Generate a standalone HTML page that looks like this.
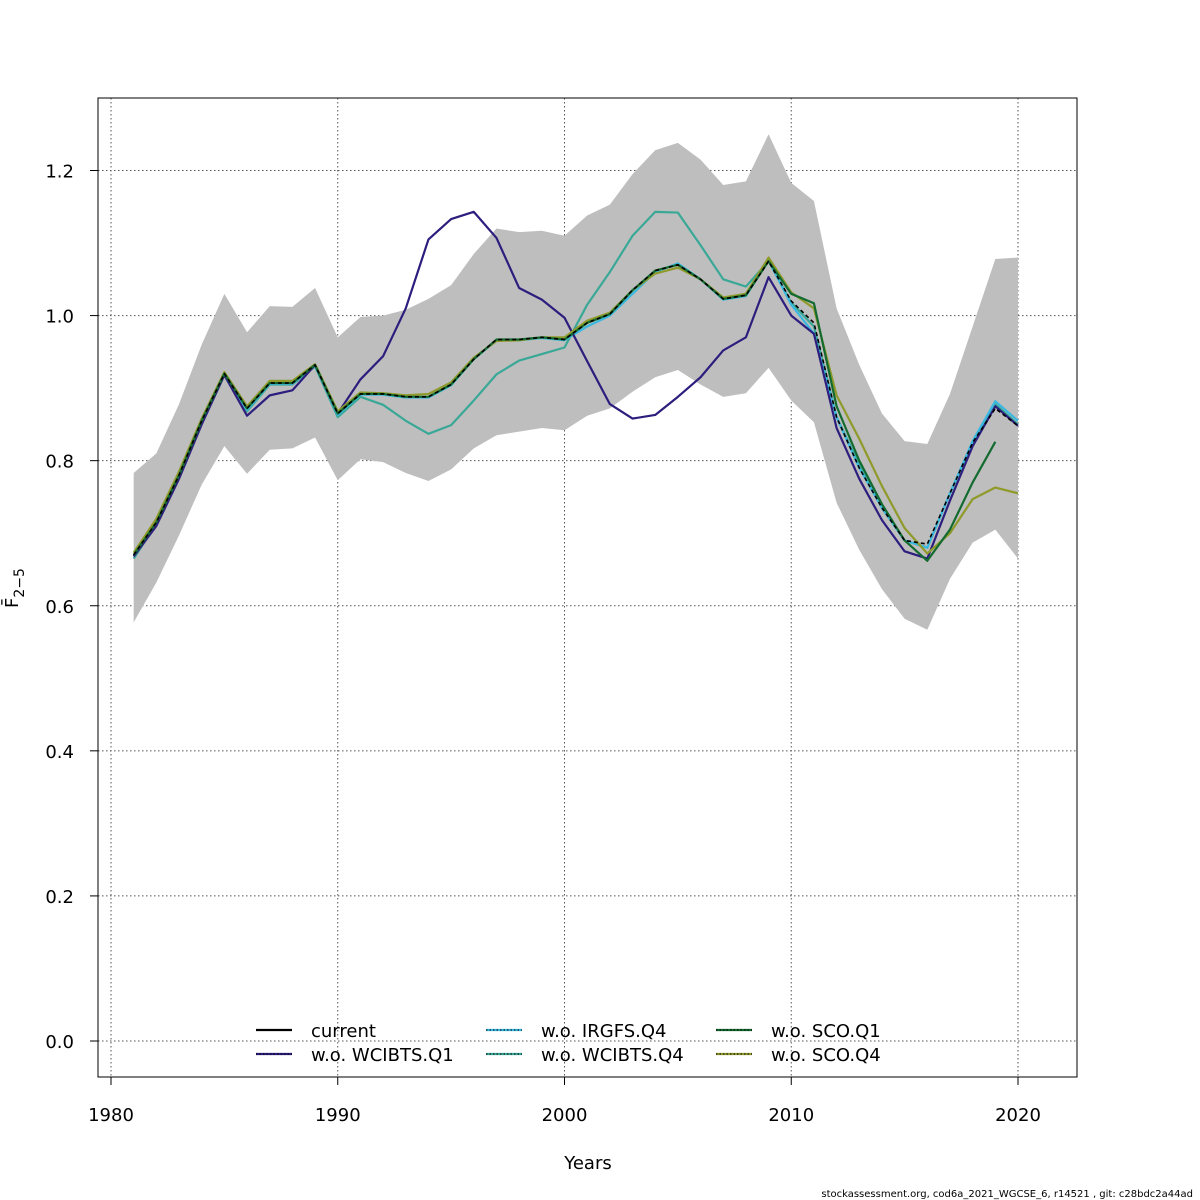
<!DOCTYPE html>
<html><head><meta charset="utf-8"><style>
body{margin:0;background:#fff}
svg{display:block;font-family:"DejaVu Sans","Liberation Sans",sans-serif}
</style></head><body>
<svg id="chart" width="1200" height="1200"></svg>
<script>
const years=[];for(let y=1981;y<=2020;y++)years.push(y);
const upper=[0.783,0.81,0.878,0.96,1.03,0.977,1.013,1.012,1.038,0.97,0.998,1.0,1.008,1.023,1.042,1.085,1.12,1.115,1.117,1.11,1.138,1.153,1.195,1.228,1.238,1.215,1.18,1.185,1.25,1.183,1.158,1.01,0.932,0.865,0.827,0.823,0.892,0.985,1.078,1.08];
const lower=[0.577,0.632,0.697,0.767,0.82,0.782,0.815,0.817,0.832,0.773,0.802,0.798,0.783,0.772,0.788,0.817,0.835,0.84,0.845,0.842,0.862,0.872,0.895,0.915,0.925,0.905,0.888,0.893,0.928,0.883,0.853,0.742,0.677,0.623,0.582,0.567,0.637,0.687,0.705,0.665];
const current=[0.67,0.715,0.78,0.855,0.92,0.872,0.907,0.907,0.932,0.865,0.892,0.892,0.888,0.888,0.905,0.94,0.967,0.967,0.97,0.967,0.99,1.002,1.035,1.062,1.07,1.05,1.023,1.028,1.075,1.02,0.99,0.86,0.79,0.735,0.69,0.685,0.755,0.825,0.872,0.848];
const woWCIBTSQ1=[0.668,0.71,0.775,0.85,0.918,0.862,0.89,0.897,0.932,0.865,0.912,0.944,1.01,1.105,1.133,1.143,1.107,1.038,1.022,0.997,0.937,0.878,0.858,0.863,0.888,0.915,0.952,0.97,1.053,1.0,0.975,0.845,0.775,0.718,0.675,0.665,0.745,0.82,0.875,0.848];
const woIRGFSQ4=[0.668,0.713,0.778,0.853,0.92,0.87,0.906,0.906,0.931,0.863,0.891,0.891,0.887,0.887,0.904,0.94,0.966,0.966,0.969,0.966,0.985,1.0,1.03,1.06,1.072,1.05,1.022,1.027,1.076,1.015,0.975,0.86,0.79,0.735,0.69,0.68,0.755,0.827,0.882,0.855];
const woWCIBTSQ4=[0.665,0.713,0.78,0.855,0.92,0.868,0.905,0.905,0.93,0.86,0.888,0.877,0.855,0.837,0.849,0.883,0.919,0.938,0.947,0.956,1.015,1.06,1.11,1.143,1.142,1.097,1.05,1.04,1.075,1.018,0.985,0.86,0.795,0.735,0.69,0.68,0.755,0.825,0.878,0.85];
const woSCOQ1=[0.67,0.715,0.78,0.855,0.92,0.872,0.907,0.907,0.932,0.865,0.892,0.892,0.888,0.888,0.905,0.94,0.967,0.967,0.97,0.967,0.99,1.002,1.035,1.062,1.07,1.05,1.023,1.028,1.075,1.03,1.017,0.875,0.8,0.74,0.69,0.662,0.705,0.77,0.826,null];
const woSCOQ4=[0.673,0.72,0.785,0.858,0.922,0.875,0.91,0.91,0.933,0.868,0.894,0.893,0.89,0.892,0.908,0.942,0.965,0.966,0.97,0.97,0.993,1.004,1.035,1.058,1.066,1.05,1.025,1.03,1.08,1.032,1.01,0.89,0.83,0.765,0.707,0.672,0.7,0.747,0.763,0.755];
const xTicks=[1980,1990,2000,2010,2020];
const yTicks=[0,0.2,0.4,0.6,0.8,1.0,1.2];
const yTickLabels=["0.0","0.2","0.4","0.6","0.8","1.0","1.2"];

const NS="http://www.w3.org/2000/svg";
const svg=document.getElementById('chart');
const X=v=>111+(v-1980)*(1018-111)/40;
const Y=v=>1041-v*(1041-170.5)/1.2;
function mk(t,a,p){const e=document.createElementNS(NS,t);for(const k in a)e.setAttribute(k,a[k]);(p||svg).appendChild(e);return e;}

xTicks.forEach(t=>{const l=mk('line',{x1:X(t),x2:X(t),y1:98,y2:1077,stroke:'#555','stroke-dasharray':'1.5,2.5','stroke-width':1});

});
yTicks.forEach(t=>{const l=mk('line',{x1:98,x2:1077,y1:Y(t),y2:Y(t),stroke:'#555','stroke-dasharray':'1.5,2.5','stroke-width':1});

});

let d='';years.forEach((y,i)=>{d+=(i?'L':'M')+X(y)+','+Y(upper[i]);});
for(let i=years.length-1;i>=0;i--)d+='L'+X(years[i])+','+Y(lower[i]);
const band=mk('path',{d:d+'Z',fill:'#bebebe'});



function line(vals,color,dash,name,w){
  let p='';let started=false;
  vals.forEach((v,i)=>{if(v==null)return;p+=(started?'L':'M')+X(years[i])+','+Y(v);started=true;});
  const e=mk('path',{d:p,fill:'none',stroke:color,'stroke-width':w||2.2,'stroke-linejoin':'round'});
  if(dash)e.setAttribute('stroke-dasharray',dash);
  
  
}
line(woWCIBTSQ4,'#3aa896',null,'line-wo-wcibts-q4');
line(woIRGFSQ4,'#3bb8e0',null,'line-wo-irgfs-q4');
line(woWCIBTSQ1,'#2d1e7e',null,'line-wo-wcibts-q1');
line(woSCOQ4,'#8f9a2a',null,'line-wo-sco-q4');
line(woSCOQ1,'#136b2f',null,'line-wo-sco-q1');
line(current,'#000','4,3','line-current',1.6);

const box=mk('rect',{x:98,y:98,width:979,height:979,fill:'none',stroke:'#000','stroke-width':1});



xTicks.forEach(t=>{mk('line',{x1:X(t),x2:X(t),y1:1077,y2:1085,stroke:'#000'});
const tx=mk('text',{x:X(t),y:1121,'text-anchor':'middle','font-size':18});tx.textContent=t;

});
yTicks.forEach((t,i)=>{mk('line',{x1:90,x2:98,y1:Y(t),y2:Y(t),stroke:'#000'});
const tx=mk('text',{x:74,y:Y(t)+7,'text-anchor':'end','font-size':18});tx.textContent=yTickLabels[i];

});

const xt=mk('text',{x:588,y:1169,'text-anchor':'middle','font-size':18});xt.textContent='Years';


const yt=mk('text',{transform:'translate(18,588) rotate(-90)','text-anchor':'middle','font-size':18});
yt.innerHTML='F̄<tspan font-size="14" dy="6">2−5</tspan>';



const leg=[['current','#000',256,1030],['w.o. WCIBTS.Q1','#2d1e7e',256,1054],['w.o. IRGFS.Q4','#3bb8e0',486,1030],['w.o. WCIBTS.Q4','#3aa896',486,1054],['w.o. SCO.Q1','#136b2f',716,1030],['w.o. SCO.Q4','#8f9a2a',716,1054]];
leg.forEach((e,i)=>{
  const g=mk('g',{});
  
  
  mk('line',{x1:e[2],x2:e[2]+36,y1:e[3],y2:e[3],stroke:e[1],'stroke-width':2.2},g);
  if(i>0)mk('line',{x1:e[2],x2:e[2]+36,y1:e[3],y2:e[3],stroke:'#000','stroke-width':1,'stroke-dasharray':'1.5,2'},g);
  const t=mk('text',{x:e[2]+55,y:e[3]+7,'font-size':18},g);t.textContent=e[0];
});
const ft=mk('text',{x:1193,y:1197,'text-anchor':'end','font-size':10});
ft.textContent='stockassessment.org, cod6a_2021_WGCSE_6, r14521 , git: c28bdc2a44ad';


</script>
</body></html>
